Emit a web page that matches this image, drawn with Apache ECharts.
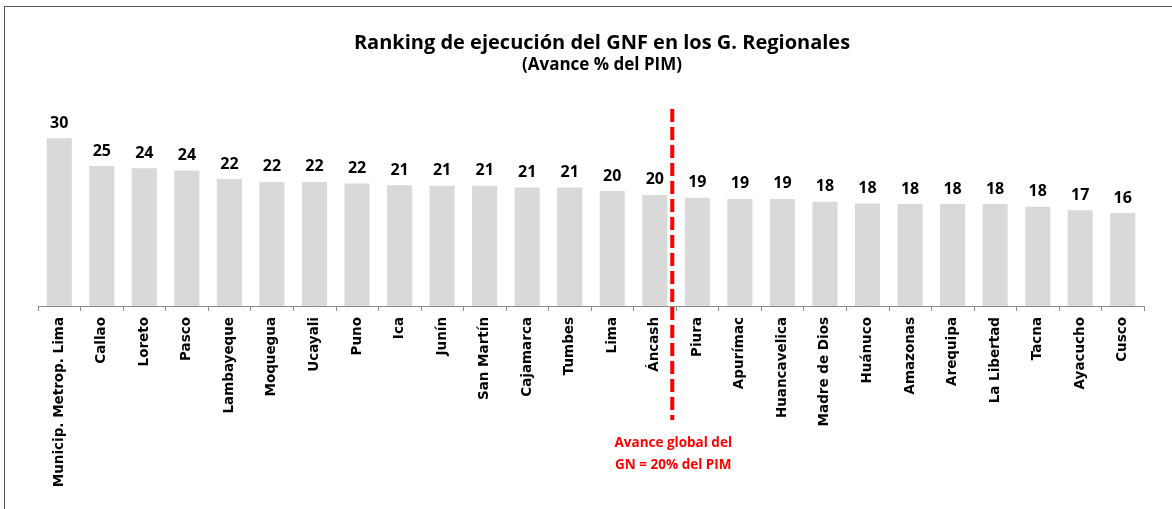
<!DOCTYPE html>
<html>
<head>
<meta charset="utf-8">
<script src="https://cdn.jsdelivr.net/npm/echarts@6/dist/echarts.min.js"></script>
<style>
  body { margin: 0; background: #fff; }
  #chart { width: 1172px; height: 509px; }
  #frame { position: absolute; left: 4px; top: 6px; width: 1200px; height: 600px;
           border-left: 1px solid #555; border-top: 1px solid #555; pointer-events: none; }
</style>
</head>
<body>
<div id="chart"></div>
<div id="frame"></div>
<script>
var regiones = ['Municip. Metrop. Lima', 'Callao', 'Loreto', 'Pasco', 'Lambayeque', 'Moquegua',
  'Ucayali', 'Puno', 'Ica', 'Junín', 'San Martín', 'Cajamarca', 'Tumbes', 'Lima', 'Áncash',
  'Piura', 'Apurímac', 'Huancavelica', 'Madre de Dios', 'Huánuco', 'Amazonas', 'Arequipa',
  'La Libertad', 'Tacna', 'Ayacucho', 'Cusco'];
var avance = [29.6, 24.7, 24.3, 23.9, 22.4, 21.9, 21.9, 21.6, 21.3, 21.2, 21.2, 20.9, 20.9,
  20.3, 19.6, 19.1, 18.9, 18.9, 18.4, 18.1, 18.0, 18.0, 18.0, 17.5, 16.9, 16.4];
var avanceGlobal = 20;   // % del PIM, GN
var corteDespuesDe = 'Áncash';

var chart = echarts.init(document.getElementById('chart'));
var option = {
  animation: false,
  title: {
    text: 'Ranking de ejecución del GNF en los G. Regionales',
    subtext: '(Avance % del PIM)',
    left: 597,
    textAlign: 'center',
    top: 28,
    itemGap: 4,
    textStyle: { fontFamily: 'Open Sans', fontWeight: 'bold', fontSize: 20, color: '#000' },
    subtextStyle: { fontFamily: 'Open Sans', fontWeight: 'bold', fontSize: 17, color: '#000' }
  },
  grid: { left: 38, right: 28, top: 136, bottom: 203 },
  xAxis: {
    type: 'category',
    data: regiones,
    axisLine: { lineStyle: { color: '#8c8c8c' } },
    axisTick: { show: true, length: 5, lineStyle: { color: '#8c8c8c' } },
    axisLabel: {
      interval: 0, rotate: 90, margin: 11,
      fontFamily: 'DejaVu Sans', fontWeight: 'bold', fontSize: 13.5, color: '#000'
    }
  },
  yAxis: {
    type: 'value', min: 0, max: 30,
    show: false
  },
  series: [{
    type: 'bar',
    data: avance,
    barWidth: '59%',
    itemStyle: { color: '#d9d9d9' },
    label: {
      show: true, position: 'top', distance: 7,
      fontFamily: 'Open Sans', fontWeight: 'bold', fontSize: 16, color: '#000',
      formatter: function (p) { return Math.round(p.value); }
    }
  }]
};
chart.setOption(option);

// linea de referencia entre Áncash y Piura
var i = regiones.indexOf(corteDespuesDe);
var xa = chart.convertToPixel({ xAxisIndex: 0 }, i);
var xb = chart.convertToPixel({ xAxisIndex: 0 }, i + 1);
var xl = xa + (xb - xa) * 0.41;
chart.setOption({
  graphic: [
    { type: 'line', shape: { x1: xl, y1: 109, x2: xl, y2: 420 },
      style: { stroke: '#ff0000', lineWidth: 4, lineDash: [13, 5] }, z: 10 },
    { type: 'text', x: xl + 1, y: 443,
      style: { text: 'Avance global del', fill: '#ff0000', font: 'bold 13.5px "Open Sans"',
               textAlign: 'center', textVerticalAlign: 'middle' } },
    { type: 'text', x: xl + 1, y: 465,
      style: { text: 'GN = ' + avanceGlobal + '% del PIM', fill: '#ff0000', font: 'bold 13.5px "Open Sans"',
               textAlign: 'center', textVerticalAlign: 'middle' } }
  ]
});
</script>
</body>
</html>
